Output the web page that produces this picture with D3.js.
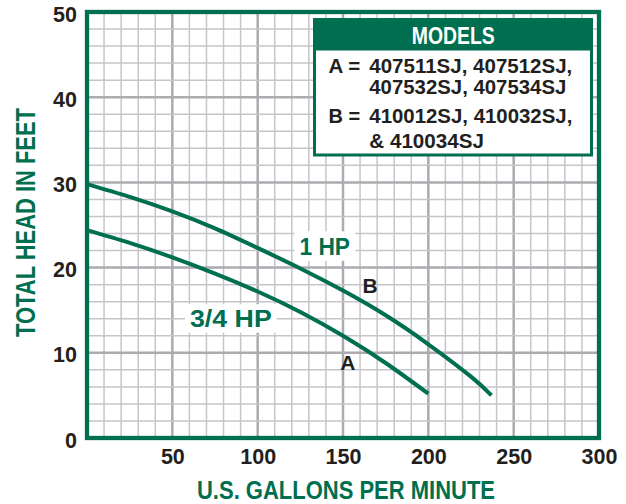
<!DOCTYPE html>
<html lang="en">
<head>
<meta charset="utf-8">
<title>Pump performance curves</title>
<script src="https://cdn.jsdelivr.net/npm/d3@7/dist/d3.min.js"></script>
<style>
  body { margin: 0; background: #fff; }
  svg text { font-family: "Liberation Sans", Arial, sans-serif; font-weight: bold; }
</style>
</head>
<body>
<svg width="626" height="504"></svg>
<script>
// ---- data ----
var gpmTicks = [50, 100, 150, 200, 250, 300];
var headTicks = [0, 10, 20, 30, 40, 50];

// curve A (3/4 HP)
var gpmA  = [0, 25, 50, 75, 100, 125, 150, 175, 200];
var headA = [24.4, 22.9, 21.2, 19.3, 17.2, 14.8, 12.0, 8.8, 5.2];

// curve B (1 HP)
var gpmB  = [0, 25, 50, 75, 100, 125, 150, 175, 200, 225, 237];
var headB = [29.8, 28.3, 26.6, 24.6, 22.3, 19.9, 17.3, 14.4, 11.0, 7.2, 5.0];

var legendTitle = "MODELS";
var legendKeys = ["A =", "", "B =", ""];
var legendModels = ["407511SJ, 407512SJ,", "407532SJ, 407534SJ", "410012SJ, 410032SJ,", "& 410034SJ"];

var green = "#006f4f";
var ink = "#231f20";

var svg = d3.select("svg");

var x = d3.scaleLinear().domain([0, 300]).range([87, 599]);
var y = d3.scaleLinear().domain([0, 50]).range([438, 12]);

// grid
var g = svg.append("g");
g.selectAll(".vminor")
  .data(d3.range(10, 300, 10))
  .enter().append("line")
  .attr("x1", function(d) { return x(d); })
  .attr("x2", function(d) { return x(d); })
  .attr("y1", y(50)).attr("y2", y(0))
  .attr("stroke", function(d) { return d % 50 ? "#c6c6ca" : "#ababb0"; })
  .attr("stroke-width", function(d) { return d % 50 ? 1.5 : 2.5; });

g.selectAll(".hminor")
  .data(d3.range(2, 50, 2))
  .enter().append("line")
  .attr("y1", function(d) { return y(d); })
  .attr("y2", function(d) { return y(d); })
  .attr("x1", x(0)).attr("x2", x(300))
  .attr("stroke", function(d) { return d % 10 ? "#c6c6ca" : "#ababb0"; })
  .attr("stroke-width", function(d) { return d % 10 ? 1.5 : 2.5; });

// curves
var line = d3.line()
  .x(function(d) { return x(d[0]); })
  .y(function(d) { return y(d[1]); })
  .curve(d3.curveNatural);

var curves = [d3.zip(gpmA, headA), d3.zip(gpmB, headB)];
svg.selectAll(".curve")
  .data(curves)
  .enter().append("path")
  .attr("class", "curve")
  .attr("d", line)
  .attr("fill", "none")
  .attr("stroke", green)
  .attr("stroke-width", 4);

// frame
svg.append("rect")
  .attr("x", x(0)).attr("y", y(50))
  .attr("width", x(300) - x(0)).attr("height", y(0) - y(50))
  .attr("fill", "none")
  .attr("stroke", green)
  .attr("stroke-width", 4.3);

// axes
var xAxis = svg.append("g")
  .attr("transform", "translate(0," + y(0) + ")")
  .call(d3.axisBottom(x).tickValues(gpmTicks).tickSize(0).tickPadding(11));
var yAxis = svg.append("g")
  .attr("transform", "translate(" + x(0) + ",0)")
  .call(d3.axisLeft(y).tickValues(headTicks).tickSize(0).tickPadding(10));
svg.selectAll(".domain").remove();
svg.selectAll(".tick text")
  .attr("fill", ink)
  .style("font-size", "21.5px")
  .style("font-family", "'Liberation Sans', Arial, sans-serif")
  .style("font-weight", "bold");
yAxis.selectAll(".tick text").attr("dy", "0.42em");

// axis titles
svg.append("text")
  .attr("x", 346).attr("y", 499)
  .attr("text-anchor", "middle")
  .attr("fill", green)
  .attr("textLength", 298).attr("lengthAdjust", "spacingAndGlyphs")
  .style("font-size", "26px")
  .text("U.S. GALLONS PER MINUTE");

svg.append("text")
  .attr("transform", "translate(35,222.5) rotate(-90)")
  .attr("text-anchor", "middle")
  .attr("fill", green)
  .attr("textLength", 229).attr("lengthAdjust", "spacingAndGlyphs")
  .style("font-size", "27px")
  .text("TOTAL HEAD IN FEET");

// curve labels
function hpLabel(txt, gx, hy, size, len) {
  var cx = x(gx), by = y(hy);
  var h = size * 0.716;
  svg.append("rect")
    .attr("x", cx - len / 2 - 5).attr("y", by - h - 6)
    .attr("width", len + 10).attr("height", h + 12)
    .attr("fill", "#fff");
  svg.append("text")
    .attr("x", cx).attr("y", by)
    .attr("text-anchor", "middle")
    .attr("fill", green)
    .attr("textLength", len).attr("lengthAdjust", "spacingAndGlyphs")
    .style("font-size", size + "px")
    .text(txt);
}
hpLabel("1 HP", 139.3, 21.5, 24.5, 50.7);
hpLabel("3/4 HP", 84.3, 13.06, 23, 81.7);

svg.append("text")
  .attr("x", x(165.8)).attr("y", y(17.0))
  .attr("text-anchor", "middle").attr("fill", ink)
  .style("font-size", "21px").text("B");
svg.append("text")
  .attr("x", x(152.9)).attr("y", y(8.0))
  .attr("text-anchor", "middle").attr("fill", ink)
  .style("font-size", "21px").text("A");

// legend
var leg = svg.append("g");
leg.append("rect")
  .attr("x", 314.5).attr("y", 19.5)
  .attr("width", 277).attr("height", 135.5)
  .attr("fill", "#fff")
  .attr("stroke", green).attr("stroke-width", 3);
leg.append("rect")
  .attr("x", 314.5).attr("y", 19.5)
  .attr("width", 277).attr("height", 31)
  .attr("fill", green);
leg.append("text")
  .attr("x", 453.3).attr("y", 44)
  .attr("text-anchor", "middle")
  .attr("fill", "#fff")
  .attr("textLength", 83).attr("lengthAdjust", "spacingAndGlyphs")
  .style("font-size", "24px")
  .text(legendTitle);

var baselines = [73.3, 94.3, 123.3, 147.7];
var modelLens = [203, 197, 203, 114.7];
legendKeys.forEach(function(k, i) {
  if (k) {
    leg.append("text")
      .attr("x", 328.5).attr("y", baselines[i])
      .attr("fill", ink)
      .attr("textLength", 31.7).attr("lengthAdjust", "spacingAndGlyphs")
      .style("font-size", "21px")
      .text(k);
  }
  leg.append("text")
    .attr("x", 369.3).attr("y", baselines[i])
    .attr("fill", ink)
    .attr("textLength", modelLens[i]).attr("lengthAdjust", "spacingAndGlyphs")
    .style("font-size", "21px")
    .text(legendModels[i]);
});
</script>
</body>
</html>
